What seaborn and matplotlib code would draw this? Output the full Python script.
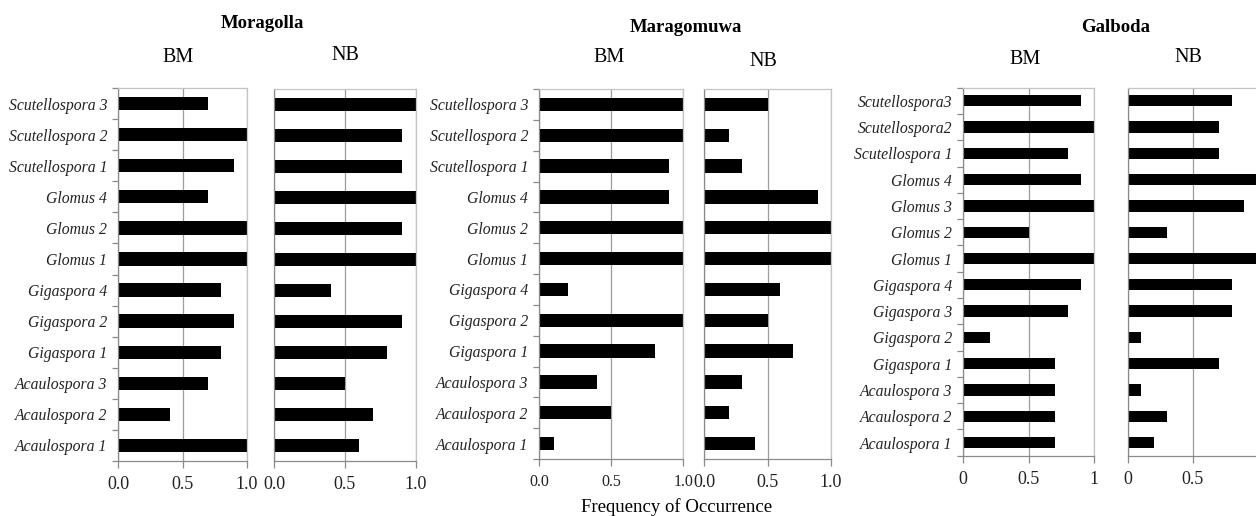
import numpy as np
import pandas as pd
import matplotlib
matplotlib.use("Agg")
import matplotlib.pyplot as plt
import seaborn as sns

sns.set_theme(style="white")
plt.rcParams["font.family"] = ["Liberation Serif", "DejaVu Serif"]

# ---- data: frequency of occurrence of AMF taxa, listed top to bottom ----
moragolla_taxa = ["Scutellospora 3", "Scutellospora 2", "Scutellospora 1",
                  "Glomus 4", "Glomus 2", "Glomus 1",
                  "Gigaspora 4", "Gigaspora 2", "Gigaspora 1",
                  "Acaulospora 3", "Acaulospora 2", "Acaulospora 1"]
moragolla_bm = [0.7, 1.0, 0.9, 0.7, 1.0, 1.0, 0.8, 0.9, 0.8, 0.7, 0.4, 1.0]
moragolla_nb = [1.0, 0.9, 0.9, 1.0, 0.9, 1.0, 0.4, 0.9, 0.8, 0.5, 0.7, 0.6]

maragomuwa_taxa = ["Scutellospora 3", "Scutellospora 2", "Scutellospora 1",
                   "Glomus 4", "Glomus 2", "Glomus 1",
                   "Gigaspora 4", "Gigaspora 2", "Gigaspora 1",
                   "Acaulospora 3", "Acaulospora 2", "Acaulospora 1"]
maragomuwa_bm = [1.0, 1.0, 0.9, 0.9, 1.0, 1.0, 0.2, 1.0, 0.8, 0.4, 0.5, 0.1]
maragomuwa_nb = [0.5, 0.2, 0.3, 0.9, 1.0, 1.0, 0.6, 0.5, 0.7, 0.3, 0.2, 0.4]

galboda_taxa = ["Scutellospora3", "Scutellospora2", "Scutellospora 1",
                "Glomus 4", "Glomus 3", "Glomus 2", "Glomus 1",
                "Gigaspora 4", "Gigaspora 3", "Gigaspora 2", "Gigaspora 1",
                "Acaulospora 3", "Acaulospora 2", "Acaulospora 1"]
galboda_bm = [0.9, 1.0, 0.8, 0.9, 1.0, 0.5, 1.0, 0.9, 0.8, 0.2, 0.7, 0.7, 0.7, 0.7]
galboda_nb = [0.8, 0.7, 0.7, 1.0, 0.9, 0.3, 1.0, 0.8, 0.8, 0.1, 0.7, 0.1, 0.3, 0.2]

decimal_ticks = ["0.0", "0.5", "1.0"]
plain_ticks = ["0", "0.5", "1"]
# the last panel runs off the right edge, so its end label falls outside
edge_ticks = ["0", "0.5", ""]

sites = ["Moragolla", "Maragomuwa", "Galboda"]
treatments = ["BM", "NB"]
xlabel_text = "Frequency of Occurrence"

W, H = 1256, 516
fig = plt.figure(figsize=(W / 100, H / 100), dpi=100)


def add_axes_px(x0, x1, top, bottom):
    return fig.add_axes([x0 / W, 1 - bottom / H, (x1 - x0) / W, (bottom - top) / H])


AXIS_GREY = "#8a8a8a"
BORDER_GREY = "#c4c4c4"
GRID_GREY = "#9c9c9c"


def draw_panel(ax, taxa, values, ticklabels, tick_size, show_names):
    df = pd.DataFrame({"taxon": taxa, "freq": values})
    sns.barplot(data=df, x="freq", y="taxon", order=taxa, orient="h",
                color="black", saturation=1, width=0.43, linewidth=0, ax=ax)
    n = len(taxa)
    ax.set_xlim(0, 1)
    ax.set_ylim(n - 0.5, -0.5)
    ax.set_xticks([0, 0.5, 1])
    ax.set_xticklabels(ticklabels, fontsize=tick_size, color="#222222")
    ax.set_xlabel("")
    ax.set_ylabel("")
    ax.xaxis.grid(True, color=GRID_GREY, lw=0.9)
    ax.yaxis.grid(False)
    ax.set_axisbelow(True)
    ax.tick_params(axis="x", bottom=True, length=5, width=0.9, color=AXIS_GREY,
                   direction="out", pad=6)
    if show_names:
        ax.set_yticks(np.arange(-0.5, n), minor=True)
        ax.tick_params(axis="y", which="minor", left=True, length=4, width=0.9,
                       color=AXIS_GREY, direction="out")
        ax.tick_params(axis="y", which="major", length=0, pad=8)
        for lab in ax.get_yticklabels():
            lab.set_fontstyle("italic")
            lab.set_fontsize(11.3)
            lab.set_color("#222222")
    else:
        ax.set_yticklabels([])
        ax.tick_params(axis="y", which="both", length=0)
    for side in ("left", "bottom"):
        ax.spines[side].set_color(AXIS_GREY)
        ax.spines[side].set_linewidth(0.9)
    for side in ("top", "right"):
        ax.spines[side].set_color(BORDER_GREY)
        ax.spines[side].set_linewidth(0.9)


panels = [
    ((118.3, 246.7, 88, 461), moragolla_taxa, moragolla_bm, decimal_ticks, 13, True),
    ((274.0, 415.7, 89, 461), moragolla_taxa, moragolla_nb, decimal_ticks, 13, False),
    ((539.3, 683.3, 89, 459), maragomuwa_taxa, maragomuwa_bm, decimal_ticks, 11.5, True),
    ((704.0, 831.0, 89, 459), maragomuwa_taxa, maragomuwa_nb, decimal_ticks, 13, False),
    ((963.3, 1094.3, 87.7, 455.7), galboda_taxa, galboda_bm, plain_ticks, 13, True),
    ((1128.0, 1257.4, 87.7, 455.7), galboda_taxa, galboda_nb, edge_ticks, 13, False),
]

for box, taxa, vals, tl, ts, names in panels:
    ax = add_axes_px(*box)
    draw_panel(ax, taxa, vals, tl, ts, names)


def text_px(x, y, s, **kw):
    fig.text(x / W, 1 - y / H, s, ha="center", va="center", color="black", **kw)


# site headings
text_px(262, 23, sites[0], fontsize=13.5, fontweight="bold")
text_px(686, 27, sites[1], fontsize=13.5, fontweight="bold")
text_px(1116, 27, sites[2], fontsize=13.5, fontweight="bold")

# treatment headings
text_px(178, 57, treatments[0], fontsize=14.5)
text_px(345, 55, treatments[1], fontsize=14.5)
text_px(609, 58, treatments[0], fontsize=14.5)
text_px(763, 62, treatments[1], fontsize=14.5)
text_px(1025, 59, treatments[0], fontsize=14.5)
text_px(1188, 57, treatments[1], fontsize=14.5)

text_px(677, 507, xlabel_text, fontsize=13.5)

fig.savefig("out.png", dpi=100, facecolor="white")
